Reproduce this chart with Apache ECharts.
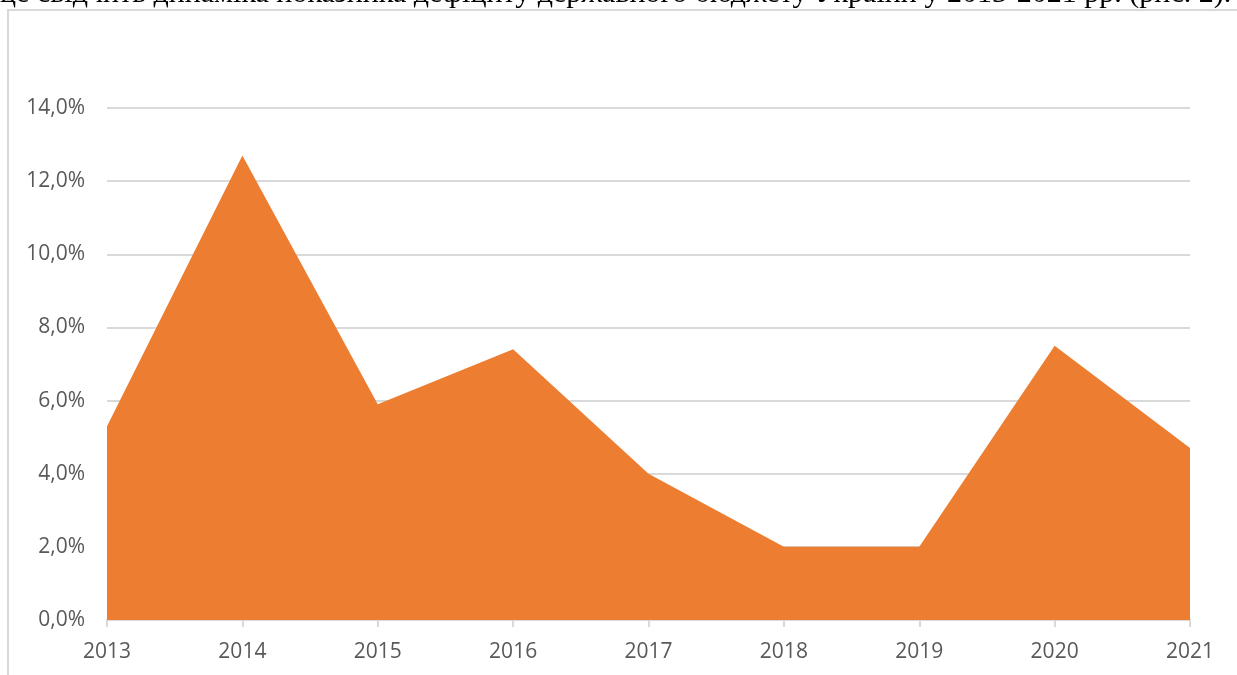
<!DOCTYPE html>
<html>
<head>
<meta charset="utf-8">
<script src="https://cdn.jsdelivr.net/npm/echarts@6/dist/echarts.min.js"></script>
<style>
  html, body { margin: 0; padding: 0; background: #fff; }
  #chart { width: 1237px; height: 675px; }
</style>
</head>
<body>
<div id="chart"></div>
<script>
// роки та дефіцит держбюджету, % ВВП
const years = ['2013', '2014', '2015', '2016', '2017', '2018', '2019', '2020', '2021']
const deficit = [5.3, 12.7, 5.9, 7.4, 4.0, 2.0, 2.0, 7.5, 4.7]
const caption = 'це свідчить динаміка показника дефіциту державного бюджету України у 2013-2021 рр. (рис. 2).'

const chart = echarts.init(document.getElementById('chart'))

const option = {
  animation: false,
  grid: { left: 107, right: 47, top: 108, bottom: 55 },
  graphic: [
    {
      type: 'rect',
      shape: { x: 8, y: 10, width: 1400, height: 800 },
      style: { fill: 'none', stroke: '#d9d9d9', lineWidth: 2 }
    },
    {
      type: 'text',
      x: 0,
      y: 9,
      style: {
        text: caption,
        font: '30px "Liberation Serif"',
        fill: '#000',
        verticalAlign: 'bottom'
      }
    }
  ],
  xAxis: {
    type: 'category',
    data: years,
    boundaryGap: false,
    axisLine: { lineStyle: { color: '#d9d9d9', width: 2 } },
    axisTick: { show: true, length: 7, lineStyle: { color: '#d9d9d9', width: 2 } },
    axisLabel: { color: '#595959', fontSize: 21, fontFamily: 'Open Sans', margin: 22 }
  },
  yAxis: {
    type: 'value',
    min: 0,
    max: 14,
    interval: 2,
    axisLine: { show: false },
    axisTick: { show: false },
    splitLine: { lineStyle: { color: '#d9d9d9', width: 2 } },
    axisLabel: {
      color: '#595959',
      fontSize: 21,
      fontFamily: 'Open Sans',
      margin: 22,
      formatter: v => v.toFixed(1).replace('.', ',') + '%'
    }
  },
  series: [
    {
      type: 'line',
      data: deficit,
      symbol: 'none',
      lineStyle: { width: 0 },
      areaStyle: { color: '#ed7d31', opacity: 1 }
    }
  ]
}

chart.setOption(option)
</script>
</body>
</html>
